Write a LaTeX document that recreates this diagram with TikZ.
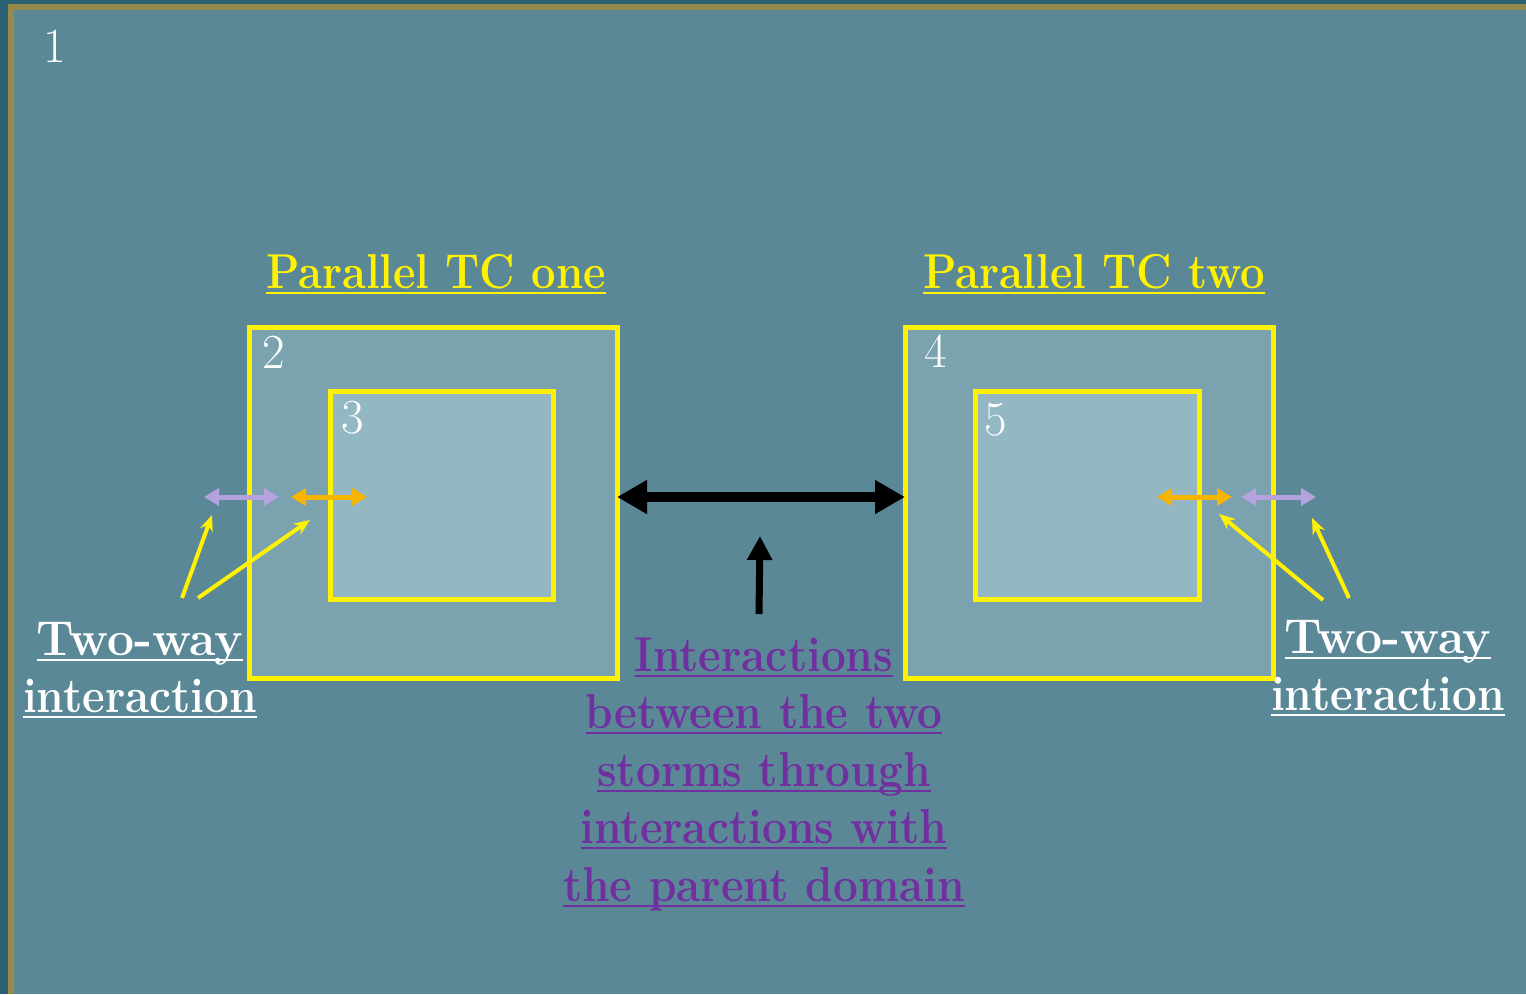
\documentclass[tikz,border=0pt]{standalone}
\usetikzlibrary{arrows.meta}
\definecolor{darkstrip}{HTML}{2B6072}
\definecolor{olive}{HTML}{968A4A}
\definecolor{bg}{HTML}{5A8896}
\definecolor{boxouter}{HTML}{7AA2AF}
\definecolor{boxinner}{HTML}{93B7C3}
\definecolor{lav}{HTML}{B3A2DD}
\definecolor{orng}{HTML}{F7B500}
\definecolor{purp}{HTML}{7030A0}
\newcommand{\myul}[2]{\setbox0\hbox{\scalebox{#1}[1]{#2}}\rlap{\rule[-0.13em]{\wd0}{0.055em}}\box0}
\tikzset{
  outerbox/.style={draw=yellow, fill=boxouter, line width=5pt, inner sep=0pt, minimum width=368pt, minimum height=351pt},
  innerbox/.style={draw=yellow, fill=boxinner, line width=5pt, inner sep=0pt},
  numlbl/.style={text=white, font=\fontsize{49}{56}\selectfont, anchor=base, inner sep=0pt},
  titlelbl/.style={text=yellow, font=\bfseries\fontsize{49}{56}\selectfont, anchor=base, inner sep=0pt},
  twlbl/.style={text=white, font=\bfseries\fontsize{49}{56}\selectfont, anchor=base, inner sep=0pt},
  purplbl/.style={text=purp, font=\bfseries\fontsize{49}{56}\selectfont, anchor=base, inner sep=0pt},
  bigdbl/.style={line width=10pt, {Triangle[length=30pt,width=32pt]}-{Triangle[length=30pt,width=32pt]}},
  upar/.style={line width=7pt, -{Triangle[length=24pt,width=24pt]}},
  smalldbl/.style={line width=5pt, {Triangle[length=15pt,width=17pt]}-{Triangle[length=15pt,width=17pt]}},
  yarr/.style={draw=yellow, line width=4pt, -{Stealth[length=16pt,width=13pt]}},
}
\begin{document}
\begin{tikzpicture}[x=1pt,y=-1pt]
\useasboundingbox (0,0) rectangle (1526,994);
\fill[darkstrip] (0,0) rectangle (1526,994);
\fill[olive] (8,4) rectangle (1526,994);
\fill[bg] (14,10) rectangle (1526,994);

\node[numlbl] (n1) at (55,62) {1};

% boxes
\node[outerbox] (b2) at (433,502.5) {};
\node[innerbox, minimum width=223pt, minimum height=208pt] (b3) at (441.5,495) {};
\node[outerbox] (b4) at (1089,502.5) {};
\node[innerbox, minimum width=224pt, minimum height=208pt] (b5) at (1087,495) {};

\node[numlbl] (n2) at (274,368) {2};
\node[numlbl] (n3) at (353,433) {3};
\node[numlbl] (n4) at (936,367) {4};
\node[numlbl] (n5) at (996,435) {5};

\node[titlelbl] (t1) at (436,288) {\myul{0.89}{Parallel TC one}};
\node[titlelbl] (t2) at (1094,288) {\myul{0.89}{Parallel TC two}};

% central arrows
\coordinate (cl) at (617,497);
\coordinate (cr) at (905,497);
\draw[bigdbl] (cl) -- (cr);
\coordinate (ub) at (759,614);
\coordinate (ut) at (760,536);
\draw[upar] (ub) -- (ut);

% left small arrows
\coordinate (la1) at (204,497);
\coordinate (la2) at (279,497);
\coordinate (lo1) at (291,497);
\coordinate (lo2) at (367,497);
\draw[smalldbl, lav] (la1) -- (la2);
\draw[smalldbl, orng] (lo1) -- (lo2);
% right small arrows
\coordinate (ro1) at (1157,497);
\coordinate (ro2) at (1232,497);
\coordinate (ra1) at (1241,497);
\coordinate (ra2) at (1316,497);
\draw[smalldbl, orng] (ro1) -- (ro2);
\draw[smalldbl, lav] (ra1) -- (ra2);

% yellow pointers
\coordinate (ly1s) at (182,598);
\coordinate (ly1e) at (212,515);
\coordinate (ly2s) at (198,598);
\coordinate (ly2e) at (310,520);
\coordinate (ry1s) at (1323,600);
\coordinate (ry1e) at (1219,514);
\coordinate (ry2s) at (1349,598);
\coordinate (ry2e) at (1312,518);
\draw[yarr] (ly1s) -- (ly1e);
\draw[yarr] (ly2s) -- (ly2e);
\draw[yarr] (ry1s) -- (ry1e);
\draw[yarr] (ry2s) -- (ry2e);

% two-way labels
\node[twlbl] (lw1) at (140,655) {\myul{0.98}{Two-way}};
\node[twlbl] (lw2) at (140,712) {\myul{0.9}{interaction}};
\node[twlbl] (rw1) at (1388,653) {\myul{0.98}{Two-way}};
\node[twlbl] (rw2) at (1388,710) {\myul{0.9}{interaction}};

% purple text
\node[purplbl] (p1) at (764,671) {\myul{0.9}{Interactions}};
\node[purplbl] (p2) at (764,728) {\myul{0.9}{between the two}};
\node[purplbl] (p3) at (764,786) {\myul{0.9}{storms through}};
\node[purplbl] (p4) at (764,843) {\myul{0.9}{interactions with}};
\node[purplbl] (p5) at (764,901) {\myul{0.9}{the parent domain}};
\end{tikzpicture}
\end{document}
